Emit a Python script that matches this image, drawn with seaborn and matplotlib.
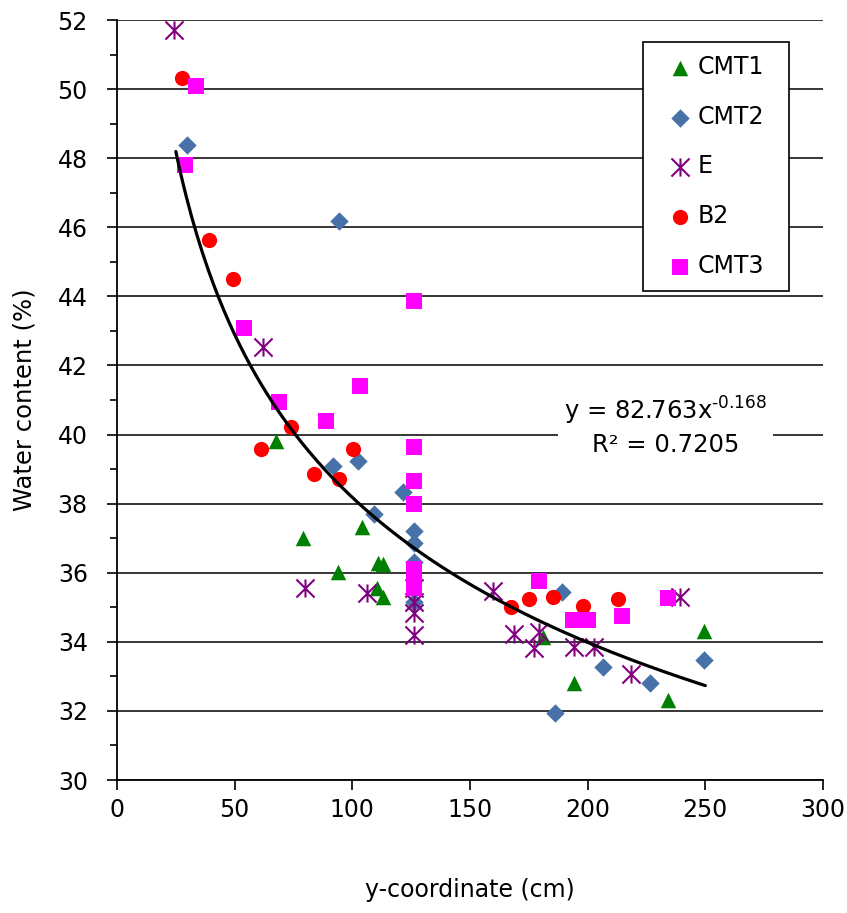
import numpy as np
import pandas as pd
import matplotlib
matplotlib.use("Agg")
import matplotlib.pyplot as plt
from matplotlib.path import Path
from matplotlib.ticker import MultipleLocator
import seaborn as sns

# Measured water content against vertical position, one pair of lists per probe
cmt1_x = [67.6, 79.2, 104.0, 94.1, 111.0, 112.9, 110.4, 112.9, 181.2, 194.4, 234.0, 249.6]
cmt1_y = [39.82, 37.00, 37.32, 36.03, 36.27, 36.25, 35.55, 35.31, 34.15, 32.82, 32.32, 34.32]

cmt2_x = [29.9, 94.2, 91.9, 102.3, 121.7, 109.2, 126.4, 126.4, 126.4, 126.4, 189.0, 206.4, 226.5, 249.6, 186.1]
cmt2_y = [48.38, 46.19, 39.09, 39.22, 38.35, 37.70, 37.21, 36.87, 36.32, 35.16, 35.45, 33.26, 32.82, 33.48, 31.95]

e_x = [24.1, 62.0, 79.9, 106.1, 126.4, 126.4, 126.4, 126.4, 159.9, 168.9, 177.2, 179.3, 194.4, 202.7, 218.3, 239.3]
e_y = [51.71, 42.52, 35.55, 35.41, 35.55, 35.16, 34.83, 34.20, 35.48, 34.22, 33.81, 34.29, 33.86, 33.84, 33.06, 35.31]

b2_x = [27.6, 39.0, 49.3, 74.0, 61.2, 100.1, 83.7, 94.3, 167.4, 175.1, 185.4, 198.2, 213.1]
b2_y = [50.31, 45.63, 44.51, 40.23, 39.58, 39.58, 38.86, 38.71, 35.00, 35.24, 35.29, 35.05, 35.24]

cmt3_x = [33.6, 29.0, 53.8, 126.4, 103.4, 68.8, 89.0, 126.4, 126.4, 126.4, 126.4, 126.4, 126.4, 179.5, 193.9, 200.3, 214.5, 234.0]
cmt3_y = [50.10, 47.80, 43.09, 43.88, 41.41, 40.95, 40.39, 39.63, 38.66, 37.99, 36.10, 35.80, 35.55, 35.77, 34.63, 34.63, 34.75, 35.26]

# Power-law trend y = a * x^b fitted to all probes
trend_a = 82.763
trend_b = -0.168
trend_r2 = 0.7205
trend_xmin, trend_xmax = 25, 250

x_ticks = [0, 50, 100, 150, 200, 250, 300]
y_ticks = [30, 32, 34, 36, 38, 40, 42, 44, 46, 48, 50, 52]

sns.set_style("ticks")
plt.rcParams["font.family"] = ["DejaVu Sans"]
plt.rcParams["text.color"] = "black"
plt.rcParams["axes.labelcolor"] = "black"
plt.rcParams["xtick.color"] = "black"
plt.rcParams["ytick.color"] = "black"

fig = plt.figure(figsize=(8.47, 9.13), dpi=100)
ax = fig.add_axes([117 / 847, 1 - 780 / 913, 706 / 847, 760 / 913])

# Six-armed asterisk: a cross with a vertical bar through it
star = Path([(-1, -1), (1, 1), (-1, 1), (1, -1), (0, -1), (0, 1)],
            [Path.MOVETO, Path.LINETO, Path.MOVETO, Path.LINETO, Path.MOVETO, Path.LINETO])

series = [
    ("CMT1", cmt1_x, cmt1_y, "^", "#008000", 125),
    ("CMT2", cmt2_x, cmt2_y, "D", "#4672A8", 88),
    ("E", e_x, e_y, star, "#800080", 170),
    ("B2", b2_x, b2_y, "o", "#FF0000", 120),
    ("CMT3", cmt3_x, cmt3_y, "s", "#FF00FF", 128),
]

for name, xs, ys, mk, col, size in series:
    df = pd.DataFrame({"x": xs, "y": ys})
    if mk is star:
        sns.scatterplot(data=df, x="x", y="y", marker=mk, s=size, color=col,
                        edgecolor=col, linewidth=1.5, label=name, ax=ax, zorder=3)
    else:
        sns.scatterplot(data=df, x="x", y="y", marker=mk, s=size, color=col,
                        linewidth=0, label=name, ax=ax, zorder=3)

tx = np.linspace(trend_xmin, trend_xmax, 200)
trend = pd.DataFrame({"x": tx, "y": trend_a * tx ** trend_b})
sns.lineplot(data=trend, x="x", y="y", color="black", linewidth=2.3, ax=ax, zorder=4,
             legend=False)

ax.set_xlim(0, 300)
ax.set_ylim(30, 52)
ax.set_xticks(x_ticks)
ax.set_yticks(y_ticks)
ax.yaxis.set_minor_locator(MultipleLocator(1))
ax.set_axisbelow(True)
ax.grid(axis="y", which="major", color="black", linewidth=1.1)
ax.grid(axis="x", visible=False)

for side in ("top", "right"):
    ax.spines[side].set_visible(False)
for side in ("left", "bottom"):
    ax.spines[side].set_color("black")
    ax.spines[side].set_linewidth(1.3)

ax.tick_params(axis="both", which="major", direction="out", length=7, width=1.2,
               color="black", labelsize=17, labelcolor="black", pad=6)
ax.tick_params(axis="y", which="major", pad=14)
ax.tick_params(axis="y", which="minor", direction="out", length=5, width=1.2, color="black")

ax.set_xlabel("y-coordinate (cm)", fontsize=17, labelpad=40, color="black")
ax.set_ylabel("Water content (%)", fontsize=17.5, labelpad=15.5, color="black")

ax.text(233, 40.25,
        "y = %.3fx$^{\\text{%.3f}}$\nR² = %.4f" % (trend_a, trend_b, trend_r2),
        ha="center", va="center", fontsize=17.5, linespacing=1.35, zorder=5,
        color="black", bbox=dict(facecolor="white", edgecolor="none", pad=4))

# Legend frame spans x 643-789 px and y 42-291 px of the figure
handles, labels = ax.get_legend_handles_labels()
leg = ax.legend(handles, labels, loc="upper left",
                bbox_to_anchor=(526 / 706, (780 - 291) / 760, 146 / 706, 249 / 760),
                mode="expand", borderaxespad=0, fontsize=17, frameon=True,
                fancybox=False, framealpha=1, edgecolor="black", borderpad=0.55,
                labelspacing=1.09, handlelength=2.0, handletextpad=-0.25)
leg.get_frame().set_linewidth(1.2)
for t in leg.get_texts():
    t.set_color("black")

fig.savefig("out.png", dpi=100)
